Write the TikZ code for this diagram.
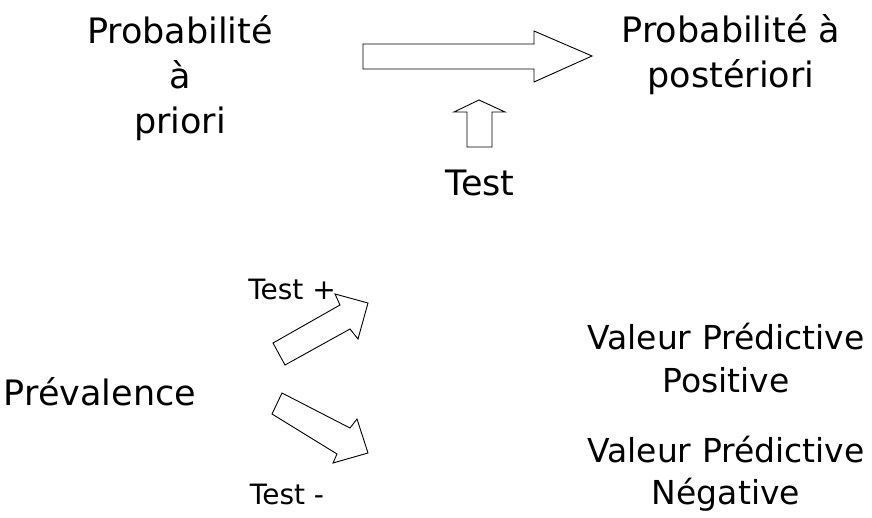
\documentclass[tikz,border=0pt]{standalone}
\usepackage{fontspec}
\setmainfont{DejaVu Sans}
\begin{document}
\begin{tikzpicture}[x=1pt,y=-1pt,
  big/.style={font=\fontsize{35}{45}\selectfont, align=center, inner sep=0pt},
  small/.style={font=\fontsize{28}{34}\selectfont, inner sep=0pt},
  fat/.style={draw=black, line width=0.9pt, fill=white, line join=miter}]
\useasboundingbox (0,0) rectangle (872,518);
% texts
\node[big] (prior) at (180,78) {Probabilité\\à\\priori};
\node[big] (post) at (731,55) {Probabilité à\\postériori};
\node[big] (test) at (480,183) {Test};
\node[small] (tp) at (292,289) {Test +};
\node[small] (tm) at (287,494) {Test -};
\node[big] (prev) at (100,392) {Prévalence};
\node[big, font=\fontsize{33}{43}\selectfont] (vpp) at (726,358) {Valeur Prédictive\\Positive};
\node[big, font=\fontsize{33}{42}\selectfont] (vpn) at (726,474) {Valeur Prédictive\\Négative};
% big right arrow
\draw[fat] (363,44) -- (534,44) -- (534,31) -- (592,56) -- (534,82) -- (534,69) -- (363,69) -- cycle;
% up arrow
\draw[fat] (467,147) -- (467,112) -- (454,112) -- (479,100) -- (505,112) -- (492,112) -- (492,147) -- cycle;
% diagonal up-right arrow
\draw[fat] (273,343) -- (340,305) -- (335,294) -- (368,303) -- (358,339) -- (350,329) -- (285,365) -- cycle;
% diagonal down-right arrow
\draw[fat] (282,393) -- (350,428) -- (357,419) -- (368,453) -- (333,463) -- (337,454) -- (272,414) -- cycle;
\end{tikzpicture}
\end{document}
